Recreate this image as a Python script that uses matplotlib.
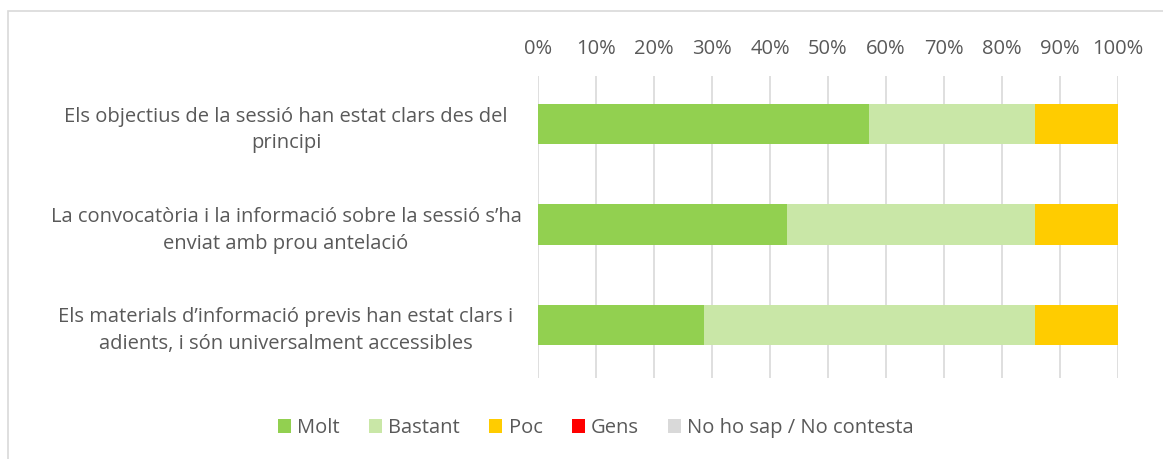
import matplotlib
matplotlib.use("Agg")
import matplotlib.pyplot as plt
from matplotlib.patches import Rectangle, Patch
import numpy as np

categories = [
    "Els objectius de la sessió han estat clars des del\nprincipi",
    "La convocatòria i la informació sobre la sessió s’ha\nenviat amb prou antelació",
    "Els materials d’informació previs han estat clars i\nadients, i són universalment accessibles",
]
series = ["Molt", "Bastant", "Poc", "Gens", "No ho sap / No contesta"]
molt = [57.14, 42.86, 28.57]
bastant = [28.57, 42.86, 57.14]
poc = [14.29, 14.29, 14.29]
gens = [0, 0, 0]
nsnc = [0, 0, 0]
colors = ["#92D050", "#C9E7A7", "#FFCC00", "#FF0000", "#D9D9D9"]
ticks = [0, 10, 20, 30, 40, 50, 60, 70, 80, 90, 100]

plt.rcParams['font.family'] = ['Open Sans', 'DejaVu Sans']
txt = "#595959"
fs = 14.5

fig = plt.figure(figsize=(11.63, 4.59), dpi=100)
ax = fig.add_axes([538/1163, 1-378/459, 580/1163, 302/459])

y = np.arange(len(categories))
left = np.zeros(len(categories))
for vals, name, c in zip([molt, bastant, poc, gens, nsnc], series, colors):
    ax.barh(y, vals, left=left, height=0.4, color=c, label=name, zorder=3)
    left = left + np.array(vals)

ax.set_xlim(0, 100)
ax.set_ylim(2.53, -0.48)
ax.set_xticks(ticks)
ax.set_xticklabels([f"{t}%" for t in ticks])
ax.xaxis.tick_top()
ax.tick_params(axis='x', length=0, pad=12, labelsize=fs, colors=txt)
ax.set_yticks(y)
ax.set_yticklabels(categories, ha='center', fontsize=fs, color=txt, linespacing=1.45)
ax.tick_params(axis='y', length=0, pad=0)
for lab in ax.get_yticklabels():
    lab.set_x(-0.4345)
ax.grid(axis='x', color="#D9D9D9", linewidth=1.2, zorder=0)
for s in ax.spines.values():
    s.set_visible(False)

handles = [Patch(facecolor=c, label=n) for c, n in zip(colors, series)]
fig.legend(handles=handles, loc='center', bbox_to_anchor=(596/1163, 1-428/459), ncol=5,
           frameon=False, fontsize=fs, labelcolor=txt, handlelength=0.65, handleheight=0.65,
           handletextpad=0.3, columnspacing=1.45)

fig.patches.append(Rectangle((8/1163, -0.2), 1.2, 1.2-11/459, transform=fig.transFigure,
                             fill=False, edgecolor="#D9D9D9", linewidth=1.2))

fig.savefig("out.png", dpi=100)
